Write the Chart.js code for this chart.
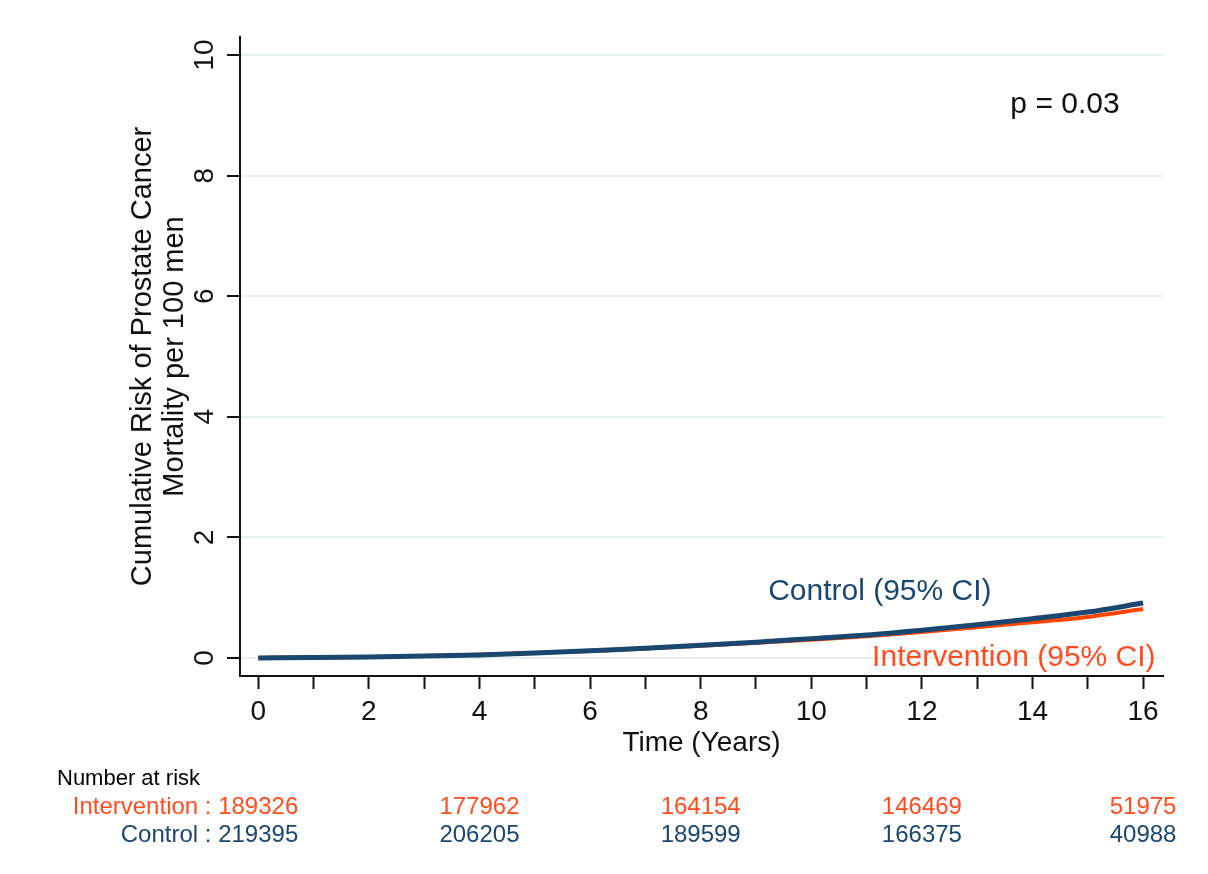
<!DOCTYPE html>
<html>
<head>
<meta charset="utf-8">
<script src="https://cdn.jsdelivr.net/npm/chart.js@4/dist/chart.umd.min.js"></script>
<style>
  body { margin: 0; background: #fff; }
  #wrap { width: 1208px; height: 874px; position: relative; }
</style>
</head>
<body>
<div id="wrap"><canvas id="chart"></canvas></div>
<script>
// years of follow-up
const years = [0, 1, 2, 3, 4, 5, 6, 7, 8, 9, 10, 11, 12, 13, 14, 15, 16];
// cumulative risk per 100 men
const control = [0, 0.005, 0.015, 0.03, 0.05, 0.08, 0.12, 0.16, 0.21, 0.26, 0.32, 0.38, 0.46, 0.55, 0.65, 0.76, 0.91];
const intervention = [0, 0.006, 0.017, 0.032, 0.052, 0.08, 0.115, 0.155, 0.2, 0.25, 0.3, 0.36, 0.43, 0.51, 0.59, 0.68, 0.81];

const yTicks = [0, 2, 4, 6, 8, 10];
const xLabelYears = [0, 2, 4, 6, 8, 10, 12, 14, 16];

// number at risk table
const riskYears = [0, 4, 8, 12, 16];
const riskIntervention = [189326, 177962, 164154, 146469, 51975];
const riskControl = [219395, 206205, 189599, 166375, 40988];

const NAVY = '#1a476f';
const ORANGE = '#ff4500';
const ORANGE_TEXT = '#ff4d1f';
const FONT = '"Liberation Sans", Arial, sans-serif';

Chart.defaults.font.family = FONT;
Chart.defaults.color = '#111';

// texts on the plot and the at-risk table under it
const extraText = {
    id: 'extraText',
    afterDraw(chart) {
        const ctx = chart.ctx;
        const xs = chart.scales.x;
        const ys = chart.scales.y;
        ctx.save();
        ctx.textBaseline = 'middle';
        ctx.textAlign = 'left';

        ctx.font = '30px ' + FONT;
        ctx.fillStyle = '#111';
        ctx.fillText('p = 0.03', xs.getPixelForValue(13.6), ys.getPixelForValue(9.17));

        ctx.fillStyle = NAVY;
        ctx.fillText('Control (95% CI)', xs.getPixelForValue(9.22), ys.getPixelForValue(1.09));
        ctx.fillStyle = ORANGE_TEXT;
        ctx.fillText('Intervention (95% CI)', xs.getPixelForValue(11.1), ys.getPixelForValue(0));

        // number at risk
        ctx.font = '22px ' + FONT;
        ctx.fillStyle = '#000';
        ctx.fillText('Number at risk', 57, 779);

        ctx.font = '24px ' + FONT;
        riskYears.forEach((yr, i) => {
            const px = xs.getPixelForValue(yr);
            if (i === 0) {
                ctx.textAlign = 'right';
                ctx.fillStyle = ORANGE_TEXT;
                ctx.fillText('Intervention : ' + riskIntervention[i], px + 40, 807);
                ctx.fillStyle = NAVY;
                ctx.fillText('Control : ' + riskControl[i], px + 40, 835);
            } else {
                ctx.textAlign = 'center';
                ctx.fillStyle = ORANGE_TEXT;
                ctx.fillText(String(riskIntervention[i]), px, 807);
                ctx.fillStyle = NAVY;
                ctx.fillText(String(riskControl[i]), px, 835);
            }
        });
        ctx.restore();
    }
};

new Chart(document.getElementById('chart'), {
    type: 'line',
    data: {
        labels: years,
        datasets: [
            {
                label: 'Control',
                data: years.map((x, i) => ({ x: x, y: control[i] })),
                borderColor: NAVY,
                borderWidth: 5,
                pointRadius: 0,
                cubicInterpolationMode: 'monotone',
                fill: false
            },
            {
                label: 'Intervention',
                data: years.map((x, i) => ({ x: x, y: intervention[i] })),
                borderColor: ORANGE,
                borderWidth: 4,
                pointRadius: 0,
                cubicInterpolationMode: 'monotone',
                fill: false
            }
        ]
    },
    options: {
        responsive: true,
        maintainAspectRatio: false,
        animation: false,
        layout: { padding: { left: 127, right: 45, top: 37, bottom: 114 } },
        plugins: {
            legend: { display: false },
            tooltip: { enabled: false }
        },
        scales: {
            x: {
                type: 'linear',
                min: -0.33,
                max: 16.36,
                afterFit: s => { s.height = 84; },
                afterBuildTicks: s => { s.ticks = years.map(v => ({ value: v })); },
                grid: {
                    drawOnChartArea: false,
                    tickLength: 13,
                    tickWidth: 2,
                    tickColor: '#111'
                },
                border: { color: '#111', width: 2 },
                ticks: {
                    font: { size: 28 },
                    color: '#111',
                    padding: 6,
                    maxRotation: 0,
                    autoSkip: false,
                    callback: v => xLabelYears.includes(v) ? String(v) : ''
                },
                title: {
                    display: true,
                    text: 'Time (Years)',
                    font: { size: 28 },
                    color: '#111',
                    padding: { top: 0, bottom: 0 }
                }
            },
            y: {
                min: -0.3,
                max: 10.3,
                afterFit: s => { s.width = 113; },
                afterBuildTicks: s => { s.ticks = yTicks.map(v => ({ value: v })); },
                grid: {
                    color: '#e6f0f1',
                    lineWidth: 2,
                    tickLength: 13,
                    tickWidth: 2,
                    tickColor: '#111'
                },
                border: { color: '#111', width: 2 },
                ticks: {
                    font: { size: 28 },
                    color: '#111',
                    padding: 6,
                    minRotation: 90,
                    maxRotation: 90,
                    crossAlign: 'center'
                },
                title: {
                    display: true,
                    text: ['Cumulative Risk of Prostate Cancer', 'Mortality per 100 men'],
                    font: { size: 29, lineHeight: 1.1 },
                    color: '#111',
                    padding: { top: 0, bottom: 0 }
                }
            }
        }
    },
    plugins: [extraText]
});
</script>
</body>
</html>
